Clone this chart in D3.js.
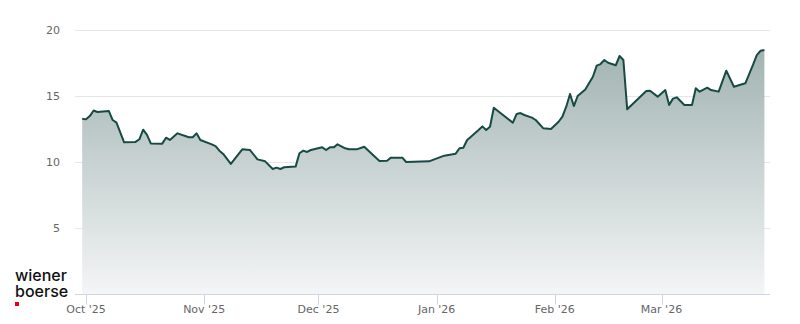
<!DOCTYPE html>
<html>
<head>
<meta charset="utf-8">
<script src="https://cdn.jsdelivr.net/npm/d3@7"></script>
<style>
body { margin:0; background:#fff; }
svg { display:block; font-family:"DejaVu Sans", sans-serif; }
</style>
</head>
<body>
<script>
// price series
var dates = ["2025-09-30","2025-10-01","2025-10-02","2025-10-03","2025-10-04","2025-10-07","2025-10-08","2025-10-09",
  "2025-10-11","2025-10-14","2025-10-15","2025-10-16","2025-10-17","2025-10-18","2025-10-21","2025-10-22","2025-10-23",
  "2025-10-25","2025-10-28","2025-10-29","2025-10-30","2025-10-31","2025-11-03","2025-11-04","2025-11-05","2025-11-06",
  "2025-11-08","2025-11-11","2025-11-13","2025-11-15","2025-11-17","2025-11-19","2025-11-20","2025-11-21","2025-11-22",
  "2025-11-25","2025-11-26","2025-11-27","2025-11-28","2025-11-29","2025-12-02","2025-12-03","2025-12-04","2025-12-05",
  "2025-12-06","2025-12-08","2025-12-09","2025-12-11","2025-12-13","2025-12-17","2025-12-19","2025-12-20","2025-12-23",
  "2025-12-24","2025-12-30","2026-01-03","2026-01-06","2026-01-07","2026-01-08","2026-01-09","2026-01-10","2026-01-12",
  "2026-01-13","2026-01-14","2026-01-15","2026-01-16","2026-01-21","2026-01-22","2026-01-23","2026-01-24","2026-01-26",
  "2026-01-27","2026-01-29","2026-01-31","2026-02-02","2026-02-03","2026-02-04","2026-02-05","2026-02-06","2026-02-07",
  "2026-02-08","2026-02-09","2026-02-11","2026-02-12","2026-02-13","2026-02-14","2026-02-15","2026-02-17","2026-02-18",
  "2026-02-19","2026-02-20","2026-02-25","2026-02-26","2026-02-28","2026-03-02","2026-03-03","2026-03-04","2026-03-05",
  "2026-03-07","2026-03-09","2026-03-10","2026-03-11","2026-03-13","2026-03-14","2026-03-16","2026-03-18","2026-03-20",
  "2026-03-23","2026-03-25","2026-03-26","2026-03-27","2026-03-28"];
var prices = [13.28,13.23,13.48,13.9,13.79,13.86,13.18,12.98,
  11.49,11.52,11.72,12.45,12.05,11.41,11.39,11.84,11.67,
  12.17,11.87,11.87,12.17,11.67,11.33,11.2,10.86,10.61,
  9.85,10.96,10.91,10.2,10.05,9.47,9.57,9.47,9.6,
  9.65,10.66,10.86,10.76,10.91,11.11,10.91,11.11,11.11,
  11.34,11.04,10.96,10.96,11.16,10.08,10.1,10.33,10.33,
  10.0,10.05,10.48,10.63,11.04,11.08,11.67,11.92,12.42,
  12.7,12.42,12.67,14.11,12.98,13.64,13.71,13.56,13.36,
  13.18,12.55,12.5,13.05,13.43,14.19,15.15,14.24,15.0,
  15.25,15.5,16.46,17.3,17.42,17.73,17.52,17.33,18.03,
  17.73,13.99,15.38,15.4,14.95,15.45,14.32,14.8,14.9,
  14.32,14.32,15.58,15.33,15.63,15.45,15.33,16.92,15.7,
  15.96,17.35,18.1,18.43,18.48];

var yTicks = [5, 10, 15, 20];
var monthTicks = ["2025-10-01","2025-11-01","2025-12-01","2026-01-01","2026-02-01","2026-03-01"];

var W = 800, H = 324;
var plotLeft = 75, plotRight = 770, plotTop = 30, plotBottom = 294;

var parse = d3.utcParse("%Y-%m-%d");
var data = dates.map(function(d, i) { return {date: parse(d), value: prices[i]}; });

var x = d3.scaleUtc()
  .domain([parse("2025-10-01"), parse("2026-03-01")])
  .range([86, 661.5]);
var y = d3.scaleLinear()
  .domain([0, 20])
  .range([plotBottom, plotTop]);

var svg = d3.select("body").append("svg")
  .attr("width", W)
  .attr("height", H);

var defs = svg.append("defs");
var grad = defs.append("linearGradient")
  .attr("id", "fillGrad")
  .attr("gradientUnits", "userSpaceOnUse")
  .attr("x1", 0).attr("x2", 0)
  .attr("y1", y(19)).attr("y2", y(0));
grad.append("stop").attr("offset", "0%").attr("stop-color", "#9fb2b0");
grad.append("stop").attr("offset", "100%").attr("stop-color", "#f4f5f6");

// grid
svg.append("g").selectAll("line")
  .data(yTicks)
  .enter().append("line")
  .attr("x1", plotLeft).attr("x2", plotRight)
  .attr("y1", function(d) { return Math.round(y(d)) + 0.5; })
  .attr("y2", function(d) { return Math.round(y(d)) + 0.5; })
  .attr("stroke", "#e6e6e6")
  .attr("stroke-width", 1);

svg.append("g").selectAll("text")
  .data(yTicks)
  .enter().append("text")
  .attr("x", 60)
  .attr("y", function(d) { return y(d) + 4; })
  .attr("text-anchor", "end")
  .attr("font-size", "11px")
  .attr("fill", "#666666")
  .text(function(d) { return d; });

// area + line
var area = d3.area()
  .x(function(d) { return x(d.date); })
  .y0(y(0))
  .y1(function(d) { return y(d.value); });
var line = d3.line()
  .x(function(d) { return x(d.date); })
  .y(function(d) { return y(d.value); });

svg.append("path")
  .datum(data)
  .attr("d", area)
  .attr("fill", "url(#fillGrad)");

svg.append("path")
  .datum(data)
  .attr("d", line)
  .attr("fill", "none")
  .attr("stroke", "#184a44")
  .attr("stroke-width", 2)
  .attr("stroke-linejoin", "round");

// x axis
var axisY = Math.round(y(0)) + 0.5;
svg.append("line")
  .attr("x1", plotLeft).attr("x2", plotRight)
  .attr("y1", axisY).attr("y2", axisY)
  .attr("stroke", "#ccd6eb");

var mt = monthTicks.map(function(d) { return parse(d); });
svg.append("g").selectAll("line")
  .data(mt)
  .enter().append("line")
  .attr("x1", function(d) { return Math.round(x(d)) + 0.5; })
  .attr("x2", function(d) { return Math.round(x(d)) + 0.5; })
  .attr("y1", axisY).attr("y2", axisY + 10)
  .attr("stroke", "#ccd6eb");

var fmt = d3.utcFormat("%b '%y");
svg.append("g").selectAll("text")
  .data(mt)
  .enter().append("text")
  .attr("x", function(d) { return x(d); })
  .attr("y", 313)
  .attr("text-anchor", "middle")
  .attr("font-size", "11px")
  .attr("fill", "#666666")
  .text(function(d) { return fmt(d); });

// logo, two lines in one text block
var logo = svg.append("text")
  .attr("font-family", "Inter, 'Liberation Sans', sans-serif")
  .attr("font-size", "16px").attr("font-weight", 500).attr("fill", "#111");
logo.append("tspan").attr("x", 15).attr("y", 281).text("wiener");
logo.append("tspan").attr("x", 15).attr("y", 297).text("boerse");
svg.append("rect").attr("x", 15).attr("y", 302).attr("width", 4).attr("height", 4).attr("fill", "#e2001a");
</script>
</body>
</html>
